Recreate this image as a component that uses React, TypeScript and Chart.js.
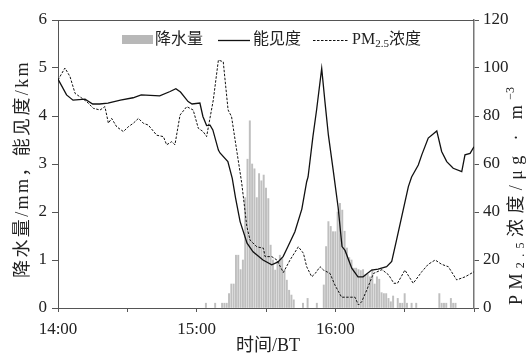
import React, { useEffect, useRef } from 'react';
import { Chart, registerables } from 'chart.js';

Chart.register(...registerables);

// minutes after 14:00
const visTime = [0, 3.7, 6.5, 11.7, 15, 18, 21.6, 27, 32.5, 36, 44, 48.5, 51, 53, 56.3, 58, 61.4, 62.7, 64.3, 65.8, 67, 69.4, 70.1, 73.5, 75.4, 76.8, 78.8, 81.8, 84.4, 88.7, 92.5, 95.2, 97.4, 99.5, 102.5, 105.5, 107.6, 108.2, 110.3, 111.9, 114.1, 115.5, 117, 119, 121.2, 122.9, 124.2, 127.1, 129.8, 132, 135.7, 138.5, 142.2, 144.4, 146.5, 148.7, 151.6, 153, 155.9, 157.4, 160.2, 163.9, 166, 168.2, 171, 174.7, 176.1, 178.3, 180];
const visKm = [4.77, 4.44, 4.33, 4.35, 4.25, 4.25, 4.27, 4.33, 4.38, 4.44, 4.42, 4.51, 4.57, 4.5, 4.30, 4.25, 4.27, 3.99, 3.80, 3.81, 3.71, 3.29, 3.23, 3.05, 2.70, 2.30, 1.80, 1.35, 1.17, 1.0, 0.9, 0.96, 1.07, 1.28, 1.59, 2.06, 2.63, 2.73, 3.57, 4.13, 4.99, 4.3, 3.6, 2.9, 2.1, 1.28, 1.2, 0.83, 0.65, 0.65, 0.79, 0.81, 0.86, 0.97, 1.42, 1.90, 2.53, 2.73, 2.98, 3.19, 3.54, 3.69, 3.26, 3.05, 2.91, 2.84, 3.19, 3.22, 3.36];

const pmTime = [0, 3, 5.2, 7.4, 9.5, 12.4, 15.3, 18.2, 20.3, 21.8, 23.2, 25.4, 28.3, 30.4, 32.6, 34.8, 36.9, 39.1, 42.7, 45.6, 47, 49.2, 50.6, 52.8, 55.7, 58.5, 60.7, 62.8, 64.3, 67.2, 69.4, 71.5, 73.6, 75.1, 77.3, 79.5, 81.7, 83.1, 86, 88.9, 89.6, 92.5, 94.7, 97.5, 100.4, 104, 106.2, 107.6, 109.8, 111.3, 113.4, 114.9, 117.7, 119.8, 122.7, 125.6, 128.5, 130, 131.4, 133.6, 136.5, 140.2, 143.1, 145.3, 146.9, 150.1, 153.7, 157.4, 160.2, 163.2, 166, 168.9, 172.5, 176.2, 180];
const pmConc = [95, 100, 96.4, 89.4, 88, 86, 83.2, 82.5, 83.9, 77, 79, 75.5, 73.5, 75.5, 77, 79, 77, 76.2, 72, 71.4, 68, 69.3, 68, 80.4, 83.9, 82.5, 74.9, 73.5, 71.4, 86.7, 103.3, 102.6, 82.5, 79.7, 65.8, 52, 34, 28.3, 25.5, 24.9, 21.4, 21.4, 20, 14.8, 20, 25.5, 22.8, 17.2, 13, 14.4, 17.2, 15.8, 14.4, 9.6, 4.5, 4.5, 4.5, 1.25, 2.6, 7.5, 14.4, 16, 13.75, 10.3, 10.3, 15.8, 10.3, 15.1, 18.2, 20, 18.2, 17.2, 11.7, 13, 15.1];

const rainTime = [64, 68, 71, 72, 73, 74, 75, 76, 77, 78, 79, 80, 81, 82, 83, 84, 85, 86, 87, 88, 89, 90, 91, 92, 93, 94, 95, 96, 97, 98, 99, 100, 101, 102, 106, 108, 112, 115, 116, 117, 118, 119, 120, 121, 122, 123, 124, 125, 126, 127, 128, 129, 130, 131, 132, 133, 134, 135, 136, 137, 138, 139, 140, 141, 142, 143, 144, 145, 147, 148, 149, 150, 151, 153, 155, 165, 166, 167, 168, 170, 171, 172];
const rainMm = [0.1, 0.1, 0.1, 0.1, 0.1, 0.3, 0.5, 0.5, 1.1, 1.1, 0.8, 1.0, 2.3, 3.1, 3.9, 3.0, 2.9, 2.3, 2.8, 2.65, 2.77, 2.5, 2.28, 1.31, 1.0, 0.79, 0.97, 1.1, 1.03, 0.79, 0.58, 0.37, 0.27, 0.17, 0.1, 0.2, 0.1, 0.48, 1.28, 1.8, 1.7, 1.59, 1.59, 2.0, 2.18, 2.04, 1.6, 1.25, 1.05, 1.0, 0.83, 0.83, 0.8, 0.78, 0.8, 0.69, 0.7, 0.65, 0.8, 0.5, 0.65, 0.6, 0.32, 0.3, 0.3, 0.2, 0.13, 0.25, 0.2, 0.1, 0.1, 0.3, 0.1, 0.1, 0.1, 0.3, 0.1, 0.1, 0.1, 0.2, 0.1, 0.1];

const xTickLabels: Record<number, string> = { 0: '14:00', 60: '15:00', 120: '16:00' };

const FAM = '"Liberation Serif", "Noto Sans CJK SC", serif';
const AXIS = '#555';
const TXT = '#222';

type Seg = { t: string; s: number; dy?: number; fixed?: boolean };

function drawRich(ctx: CanvasRenderingContext2D, segs: Seg[], cx: number, cy: number, target?: number) {
  const anyCtx = ctx as any;
  anyCtx.letterSpacing = '0px';
  let w0 = 0;
  let n = 0;
  const ws = segs.map((sg) => {
    ctx.font = `${sg.s}px ${FAM}`;
    const w = ctx.measureText(sg.t).width;
    w0 += w;
    if (!sg.fixed) n += Array.from(sg.t).length;
    return w;
  });
  const sp = target && n > 0 ? Math.max(0, (target - w0) / n) : 0;
  const total = w0 + sp * n;
  let x = cx - total / 2;
  ctx.textBaseline = 'middle';
  ctx.textAlign = 'left';
  segs.forEach((sg, i) => {
    ctx.font = `${sg.s}px ${FAM}`;
    const s = sg.fixed ? 0 : sp;
    anyCtx.letterSpacing = `${s}px`;
    ctx.fillText(sg.t, x, cy + (sg.dy || 0));
    x += ws[i] + s * Array.from(sg.t).length;
  });
  anyCtx.letterSpacing = '0px';
}

function drawLeftText(ctx: CanvasRenderingContext2D, segs: Seg[], x: number, cy: number) {
  ctx.textBaseline = 'middle';
  ctx.textAlign = 'left';
  let cur = x;
  segs.forEach((sg) => {
    ctx.font = `${sg.s}px ${FAM}`;
    ctx.fillText(sg.t, cur, cy + (sg.dy || 0));
    cur += ctx.measureText(sg.t).width;
  });
}

const decor = {
  id: 'decor',
  afterDraw(chart: any) {
    const { ctx, chartArea: a } = chart;
    ctx.save();
    // top frame
    ctx.strokeStyle = AXIS;
    ctx.lineWidth = 1;
    ctx.beginPath();
    ctx.moveTo(a.left, a.top + 0.5);
    ctx.lineTo(a.right, a.top + 0.5);
    ctx.stroke();

    // legend
    ctx.fillStyle = '#b8b8b8';
    ctx.fillRect(122, 35, 31, 9);
    ctx.fillStyle = TXT;
    drawLeftText(ctx, [{ t: '降水量', s: 16 }], 155, 40);
    ctx.strokeStyle = '#111';
    ctx.lineWidth = 1.3;
    ctx.beginPath();
    ctx.moveTo(218, 40.5);
    ctx.lineTo(250, 40.5);
    ctx.stroke();
    drawLeftText(ctx, [{ t: '能见度', s: 16 }], 253, 40);
    ctx.lineWidth = 1;
    ctx.setLineDash([2.5, 1.5]);
    ctx.beginPath();
    ctx.moveTo(313, 40.5);
    ctx.lineTo(348, 40.5);
    ctx.stroke();
    ctx.setLineDash([]);
    drawLeftText(ctx, [{ t: 'PM', s: 16 }, { t: '2.5', s: 11, dy: 4 }, { t: '浓度', s: 16 }], 352, 40);

    // left axis title
    ctx.save();
    ctx.translate(23, 169);
    ctx.rotate(-Math.PI / 2);
    drawRich(ctx, [{ t: '降水量/mm，能见度/km', s: 18 }], 0, 0, 218);
    ctx.restore();

    // right axis title
    ctx.save();
    ctx.translate(517, 196);
    ctx.rotate(-Math.PI / 2);
    drawRich(ctx, [
      { t: 'PM', s: 18 },
      { t: '2.5', s: 12, dy: 4 },
      { t: '浓度/μg · m', s: 18 },
      { t: '−3', s: 12, dy: -6, fixed: true },
    ], 0, 0, 218);
    ctx.restore();

    // x axis title
    drawRich(ctx, [{ t: '时间/BT', s: 18 }], 268, 346);
    ctx.restore();
  },
};

export default function App() {
  const ref = useRef<HTMLCanvasElement | null>(null);

  useEffect(() => {
    document.body.style.margin = '0';
    const canvas = ref.current;
    if (!canvas) return;
    const tickFont = { family: FAM, size: 17 };
    const chart = new Chart(canvas, {
      type: 'line',
      data: {
        datasets: [
          {
            type: 'line',
            label: '能见度',
            data: visTime.map((t, i) => ({ x: t, y: visKm[i] })),
            borderColor: '#111',
            borderWidth: 1.3,
            pointRadius: 0,
            tension: 0,
            yAxisID: 'y',
            order: 1,
          },
          {
            type: 'line',
            label: 'PM2.5浓度',
            data: pmTime.map((t, i) => ({ x: t, y: pmConc[i] })),
            borderColor: '#111',
            borderWidth: 1,
            borderDash: [2.5, 1.5],
            pointRadius: 0,
            tension: 0,
            yAxisID: 'y2',
            order: 2,
          },
          {
            type: 'bar',
            label: '降水量',
            data: rainTime.map((t, i) => ({ x: t, y: rainMm[i] })),
            backgroundColor: '#bfbfbf',
            borderWidth: 0,
            barThickness: 1.3,
            yAxisID: 'y',
            order: 10,
          } as any,
        ],
      },
      options: {
        responsive: false,
        animation: false,
        devicePixelRatio: 1,
        layout: { padding: { top: 20, left: 0, right: 0, bottom: 0 } },
        plugins: { legend: { display: false }, tooltip: { enabled: false } },
        scales: {
          x: {
            type: 'linear',
            min: 0,
            max: 180,
            offset: false,
            ticks: {
              stepSize: 30,
              autoSkip: false,
              maxRotation: 0,
              padding: 7,
              color: TXT,
              font: tickFont,
              callback: (v: any) => xTickLabels[Number(v)] ?? '',
            },
            grid: { drawOnChartArea: false, tickLength: 4, color: AXIS, offset: false },
            border: { color: AXIS, width: 1 },
            afterFit: (s: any) => { s.height = 47; },
          },
          y: {
            position: 'left',
            min: 0,
            max: 6,
            ticks: { stepSize: 1, padding: 5, color: TXT, font: tickFont },
            grid: { drawOnChartArea: false, tickLength: 6, color: AXIS },
            border: { color: AXIS, width: 1 },
            afterFit: (s: any) => { s.width = 58; },
          },
          y2: {
            position: 'right',
            min: 0,
            max: 120,
            ticks: { stepSize: 20, padding: 4, color: TXT, font: tickFont },
            grid: { drawOnChartArea: false, tickLength: 5, color: AXIS },
            border: { color: '#777', width: 1.5 },
            afterFit: (s: any) => { s.width = 56; },
          },
        },
      } as any,
      plugins: [decor],
    });
    return () => chart.destroy();
  }, []);

  return (
    <div style={{ width: 530, height: 355 }}>
      <canvas ref={ref} width={530} height={355} style={{ display: 'block' }} />
    </div>
  );
}
